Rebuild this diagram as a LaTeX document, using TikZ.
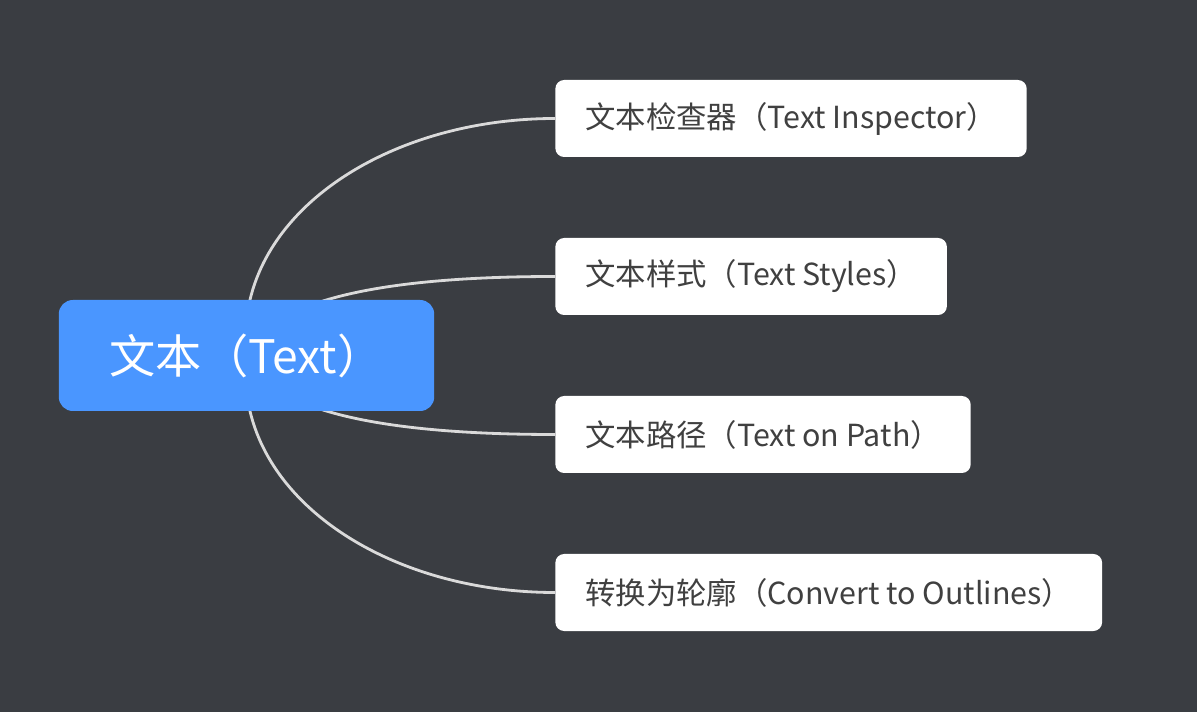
\documentclass[tikz,border=0pt]{standalone}
\usepackage{fontspec}
\newfontfamily\cjk{Noto Sans CJK SC}
\usetikzlibrary{backgrounds}
\pgfdeclarelayer{edges}
\pgfsetlayers{background,edges,main}
\definecolor{bgdark}{RGB}{58,61,66}
\definecolor{rootblue}{RGB}{74,150,255}
\definecolor{linegray}{RGB}{218,218,218}
\definecolor{textgray}{RGB}{64,64,64}
\begin{document}
\begin{tikzpicture}[x=0.02cm,y=-0.02cm]
\tikzstyle{root}=[fill=rootblue,text=white,rounded corners=8pt,inner xsep=29pt,minimum height=111*0.02cm,font=\cjk\fontsize{26.3}{30}\selectfont]
\tikzstyle{topic}=[fill=white,text=textgray,rounded corners=5pt,inner xsep=17pt,minimum height=77*0.02cm,anchor=west,font=\cjk\fontsize{17.3}{20}\selectfont]
\tikzstyle{link}=[draw=linegray,line width=1.6pt]
\begin{scope}[on background layer]
\fill[bgdark] (0,0) rectangle (1197,712);
\end{scope}
\useasboundingbox (0,0) rectangle (1197,712);
\node[root] (text) at (246.5,355.5) {文本（Text）};
\node[topic] (inspector) at (555,118.5) {文本检查器（Text Inspector）};
\node[topic] (styles) at (555,276.5) {文本样式（Text Styles）};
\node[topic] (path) at (555,434.5) {文本路径（Text on Path）};
\node[topic] (outlines) at (555,592.5) {转换为轮廓（Convert to Outlines）};
% connectors, drawn behind the boxes
\begin{pgfonlayer}{edges}
\draw[link] (text.center) .. controls +(-14,-135) and +(-175,0) .. (inspector.west);
\draw[link] (text.center) .. controls +(22,-55) and +(-175,0) .. (styles.west);
\draw[link] (text.center) .. controls +(22,55) and +(-175,0) .. (path.west);
\draw[link] (text.center) .. controls +(-14,135) and +(-175,0) .. (outlines.west);
\end{pgfonlayer}
\end{tikzpicture}
\end{document}
